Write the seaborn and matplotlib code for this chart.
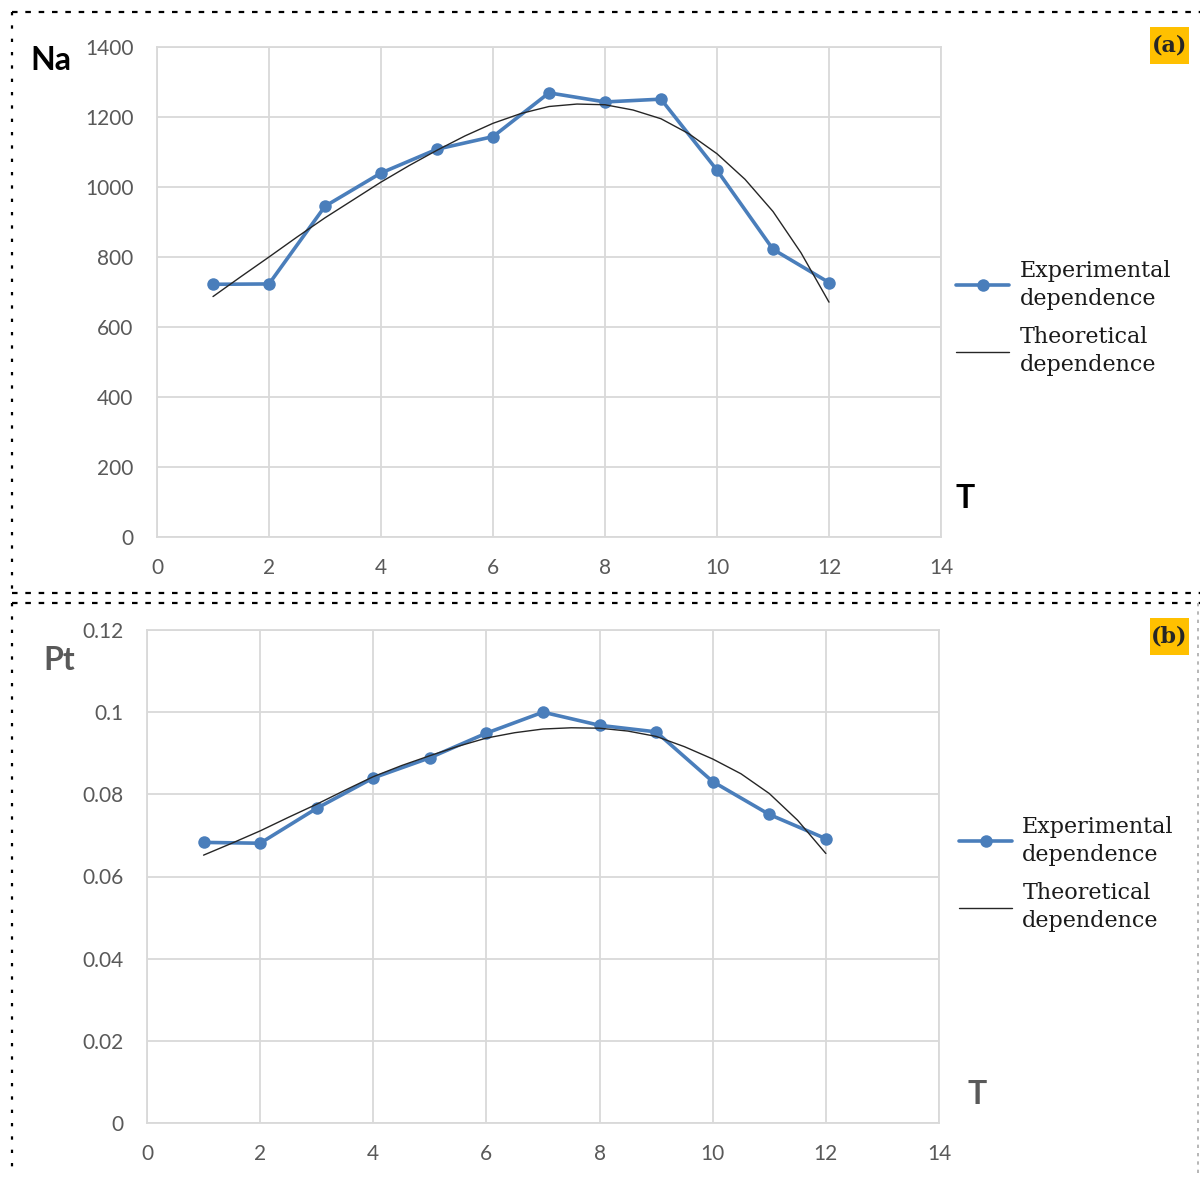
import pandas as pd
import matplotlib.pyplot as plt
import seaborn as sns
from matplotlib.lines import Line2D
from matplotlib.patches import Rectangle

# experimental points
T = [1, 2, 3, 4, 5, 6, 7, 8, 9, 10, 11, 12]
na_exp = [722, 723, 945, 1040, 1108, 1144, 1269, 1243, 1251, 1048, 822, 727]
pt_exp = [0.0683, 0.0681, 0.0766, 0.0840, 0.0889, 0.0949, 0.1000, 0.0968, 0.0952, 0.0831, 0.0751, 0.0692]

# theoretical curves, every half step
T_half = [1, 1.5, 2, 2.5, 3, 3.5, 4, 4.5, 5, 5.5, 6, 6.5, 7, 7.5, 8, 8.5, 9, 9.5, 10, 10.5, 11, 11.5, 12]
na_theo = [687, 744, 800, 857, 912, 963, 1014, 1061, 1105, 1146, 1182, 1210, 1230, 1237, 1235, 1220, 1195,
           1152, 1095, 1022, 930, 812, 671]
pt_theo = [0.0652, 0.0681, 0.0711, 0.0744, 0.0776, 0.0810, 0.0843, 0.0870, 0.0894, 0.0917, 0.0937, 0.0950,
           0.0959, 0.0962, 0.0961, 0.0954, 0.0941, 0.0916, 0.0886, 0.0850, 0.0802, 0.0737, 0.0656]

x_ticks = [0, 2, 4, 6, 8, 10, 12, 14]
na_ticks = [0, 200, 400, 600, 800, 1000, 1200, 1400]
pt_ticks = [0, 0.02, 0.04, 0.06, 0.08, 0.1, 0.12]
pt_tick_labels = ['0', '0.02', '0.04', '0.06', '0.08', '0.1', '0.12']

sns.set_style('white')
plt.rcParams['font.family'] = ['Lato', 'DejaVu Sans']

BLUE = '#4a7ebb'
GRID = '#d9d9d9'
TICK = '#595959'

fig = plt.figure(figsize=(12, 11.78), dpi=100)
W, H = 1200, 1178


def fx(px):
    return px / W


def fy(py):
    return 1 - py / H


def panel(rect, exp_vals, theo_vals, yticks, ylabels, ylim, leg_y, leg_x):
    ax = fig.add_axes(rect)
    exp_df = pd.DataFrame({'T': T, 'v': exp_vals})
    theo_df = pd.DataFrame({'T': T_half, 'v': theo_vals})
    sns.lineplot(data=exp_df, x='T', y='v', ax=ax, color=BLUE, lw=2.6, marker='o', markersize=9,
                 markeredgewidth=0, label='Experimental\ndependence', sort=False)
    sns.lineplot(data=theo_df, x='T', y='v', ax=ax, color='#262626', lw=1.0,
                 label='Theoretical\ndependence', sort=False)
    ax.set_xlim(0, 14)
    ax.set_ylim(*ylim)
    ax.set_xticks(x_ticks)
    ax.set_xticklabels([str(t) for t in x_ticks])
    ax.set_yticks(yticks)
    ax.set_yticklabels(ylabels)
    ax.set_xlabel('')
    ax.set_ylabel('')
    ax.grid(True, color=GRID, lw=1.3)
    for s in ax.spines.values():
        s.set_color(GRID)
        s.set_linewidth(1.3)
    ax.tick_params(length=0, labelsize=15, labelcolor=TICK)
    ax.tick_params(axis='y', pad=17)
    ax.tick_params(axis='x', pad=15)
    leg = ax.legend(loc='center left', bbox_to_anchor=(leg_x, leg_y), frameon=False,
                    prop={'family': 'DejaVu Serif', 'size': 16}, labelcolor='#1a1a1a',
                    handlelength=2.4, handletextpad=0.45, labelspacing=0.75, borderaxespad=0)
    for t in leg.get_texts():
        t.set_linespacing(1.35)
    return ax


ax1 = panel([fx(157), fy(537), fx(784), 490 / H], na_exp, na_theo, na_ticks,
            [str(t) for t in na_ticks], (0, 1400), 0.447, 1.008)
ax2 = panel([fx(147), fy(1123), fx(792), 493 / H], pt_exp, pt_theo, pt_ticks,
            pt_tick_labels, (0, 0.12), 0.505, 1.014)

# axis names
fig.text(fx(51), fy(60), 'Na', fontsize=23, fontweight='bold', color='black', ha='center', va='center')
fig.text(fx(59), fy(660), 'Pt', fontsize=23, fontweight='bold', color=TICK, ha='center', va='center')
fig.text(fx(965), fy(498), 'T', fontsize=23, fontweight='bold', color='black', ha='center', va='center')
fig.text(fx(977), fy(1094), 'T', fontsize=23, fontweight='bold', color=TICK, ha='center', va='center')

# panel tags on yellow squares
for label, top in [('(a)', 27), ('(b)', 618)]:
    fig.add_artist(Rectangle((fx(1150), fy(top + 37)), fx(39), 37 / H, transform=fig.transFigure,
                             facecolor='#FFC000', edgecolor='none'))
    fig.text(fx(1169.5), fy(top + 18.5), label, fontsize=16, fontweight='bold', family='DejaVu Serif',
             ha='center', va='center')

# dashed frames around the two panels
dash = dict(color='black', lw=1.6, linestyle=(0, (2.5, 3.5)), transform=fig.transFigure)
fig.add_artist(Line2D([fx(12), fx(1200)], [fy(12), fy(12)], **dash))
fig.add_artist(Line2D([fx(12), fx(1200)], [fy(593), fy(593)], **dash))
fig.add_artist(Line2D([fx(12), fx(1200)], [fy(603), fy(603)], **dash))
dots = dict(color='black', lw=1.6, linestyle=(0, (1.5, 4.5)), transform=fig.transFigure)
fig.add_artist(Line2D([fx(12), fx(12)], [fy(12), fy(593)], **dots))
fig.add_artist(Line2D([fx(12), fx(12)], [fy(603), fy(1170)], **dots))
fig.add_artist(Line2D([fx(1198), fx(1198)], [fy(603), fy(1178)], color='#aaaaaa', lw=1.2,
                      linestyle=(0, (2, 3)), transform=fig.transFigure))

fig.savefig('out.png', dpi=100)
